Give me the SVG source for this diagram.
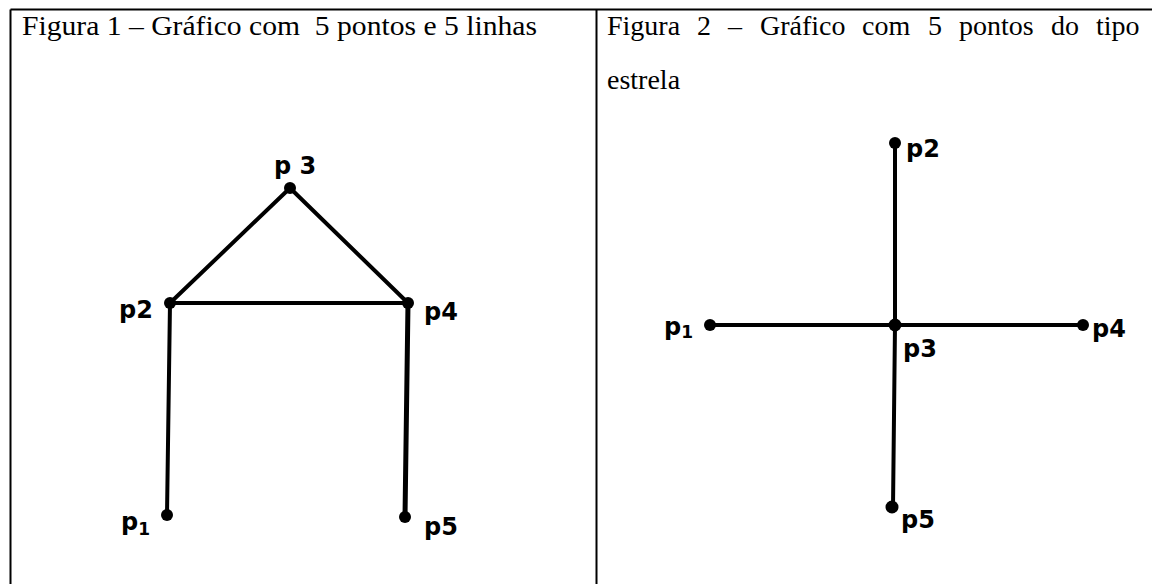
<svg xmlns="http://www.w3.org/2000/svg" width="1152" height="584" viewBox="0 0 1152 584">
<style>
.frame{stroke:#000;stroke-width:2;fill:none}
.hdr{font-family:"Liberation Serif","Times New Roman",serif;font-size:28px;fill:#000}
.edge{stroke:#000;stroke-width:4;stroke-linecap:round;fill:none}
.dot{fill:#000}
.lbl{font-family:"DejaVu Sans","Liberation Sans",sans-serif;font-weight:bold;font-size:24px;fill:#000}
.sub{font-size:17px}
</style>
<rect width="1152" height="584" fill="#fff"/>
<g id="table">
<line class="frame" x1="10.5" y1="9.5" x2="1152" y2="9.5"/>
<line class="frame" x1="10.5" y1="9.5" x2="10.5" y2="584"/>
<line class="frame" x1="596.5" y1="9.5" x2="596.5" y2="584"/>
</g>
<g id="header1">
<text class="hdr" x="22" y="35" textLength="515" lengthAdjust="spacingAndGlyphs" xml:space="preserve">Figura 1 – Gráfico com  5 pontos e 5 linhas</text>
</g>
<g id="header2">
<text class="hdr" y="35"><tspan x="607">Figura</tspan><tspan x="697">2</tspan><tspan x="728">–</tspan><tspan x="760">Gráfico</tspan><tspan x="862">com</tspan><tspan x="928">5</tspan><tspan x="959">pontos</tspan><tspan x="1051">do</tspan><tspan x="1096">tipo</tspan></text>
<text class="hdr" x="607" y="89">estrela</text>
</g>
<g id="connectors">
<line class="edge" x1="170" y1="303" x2="290" y2="188"/>
<line class="edge" x1="290" y1="188" x2="408" y2="303"/>
<line class="edge" x1="170" y1="303" x2="408" y2="303"/>
<line class="edge" x1="170" y1="303" x2="167" y2="515"/>
<line class="edge" x1="408" y1="303" x2="405" y2="517" style="stroke-width:5"/>
<line class="edge" x1="895" y1="143" x2="895" y2="325"/>
<line class="edge" x1="895" y1="325" x2="893" y2="507"/>
<line class="edge" x1="710" y1="325" x2="1083" y2="325"/>
</g>
<g id="f1-p1"><circle class="dot" cx="167" cy="515" r="6"/><text class="lbl" x="121" y="530">p<tspan class="sub" dy="5">1</tspan></text></g>
<g id="f1-p2"><circle class="dot" cx="170" cy="303" r="6"/><text class="lbl" x="119" y="318">p2</text></g>
<g id="f1-p3"><circle class="dot" cx="290" cy="188" r="6"/><text class="lbl" x="274" y="174" xml:space="preserve">p 3</text></g>
<g id="f1-p4"><circle class="dot" cx="408" cy="303" r="6"/><text class="lbl" x="424" y="320">p4</text></g>
<g id="f1-p5"><circle class="dot" cx="405" cy="517" r="6"/><text class="lbl" x="424" y="535">p5</text></g>
<g id="f2-p1"><circle class="dot" cx="710" cy="325" r="6"/><text class="lbl" x="664" y="335">p<tspan class="sub" dy="3">1</tspan></text></g>
<g id="f2-p2"><circle class="dot" cx="895" cy="143" r="6"/><text class="lbl" x="906" y="157">p2</text></g>
<g id="f2-p3"><circle class="dot" cx="895" cy="325" r="6.5"/><text class="lbl" x="903" y="357">p3</text></g>
<g id="f2-p4"><circle class="dot" cx="1083" cy="325" r="6"/><text class="lbl" x="1092" y="337">p4</text></g>
<g id="f2-p5"><circle class="dot" cx="892" cy="507" r="6.5"/><text class="lbl" x="901" y="528">p5</text></g>
</svg>
